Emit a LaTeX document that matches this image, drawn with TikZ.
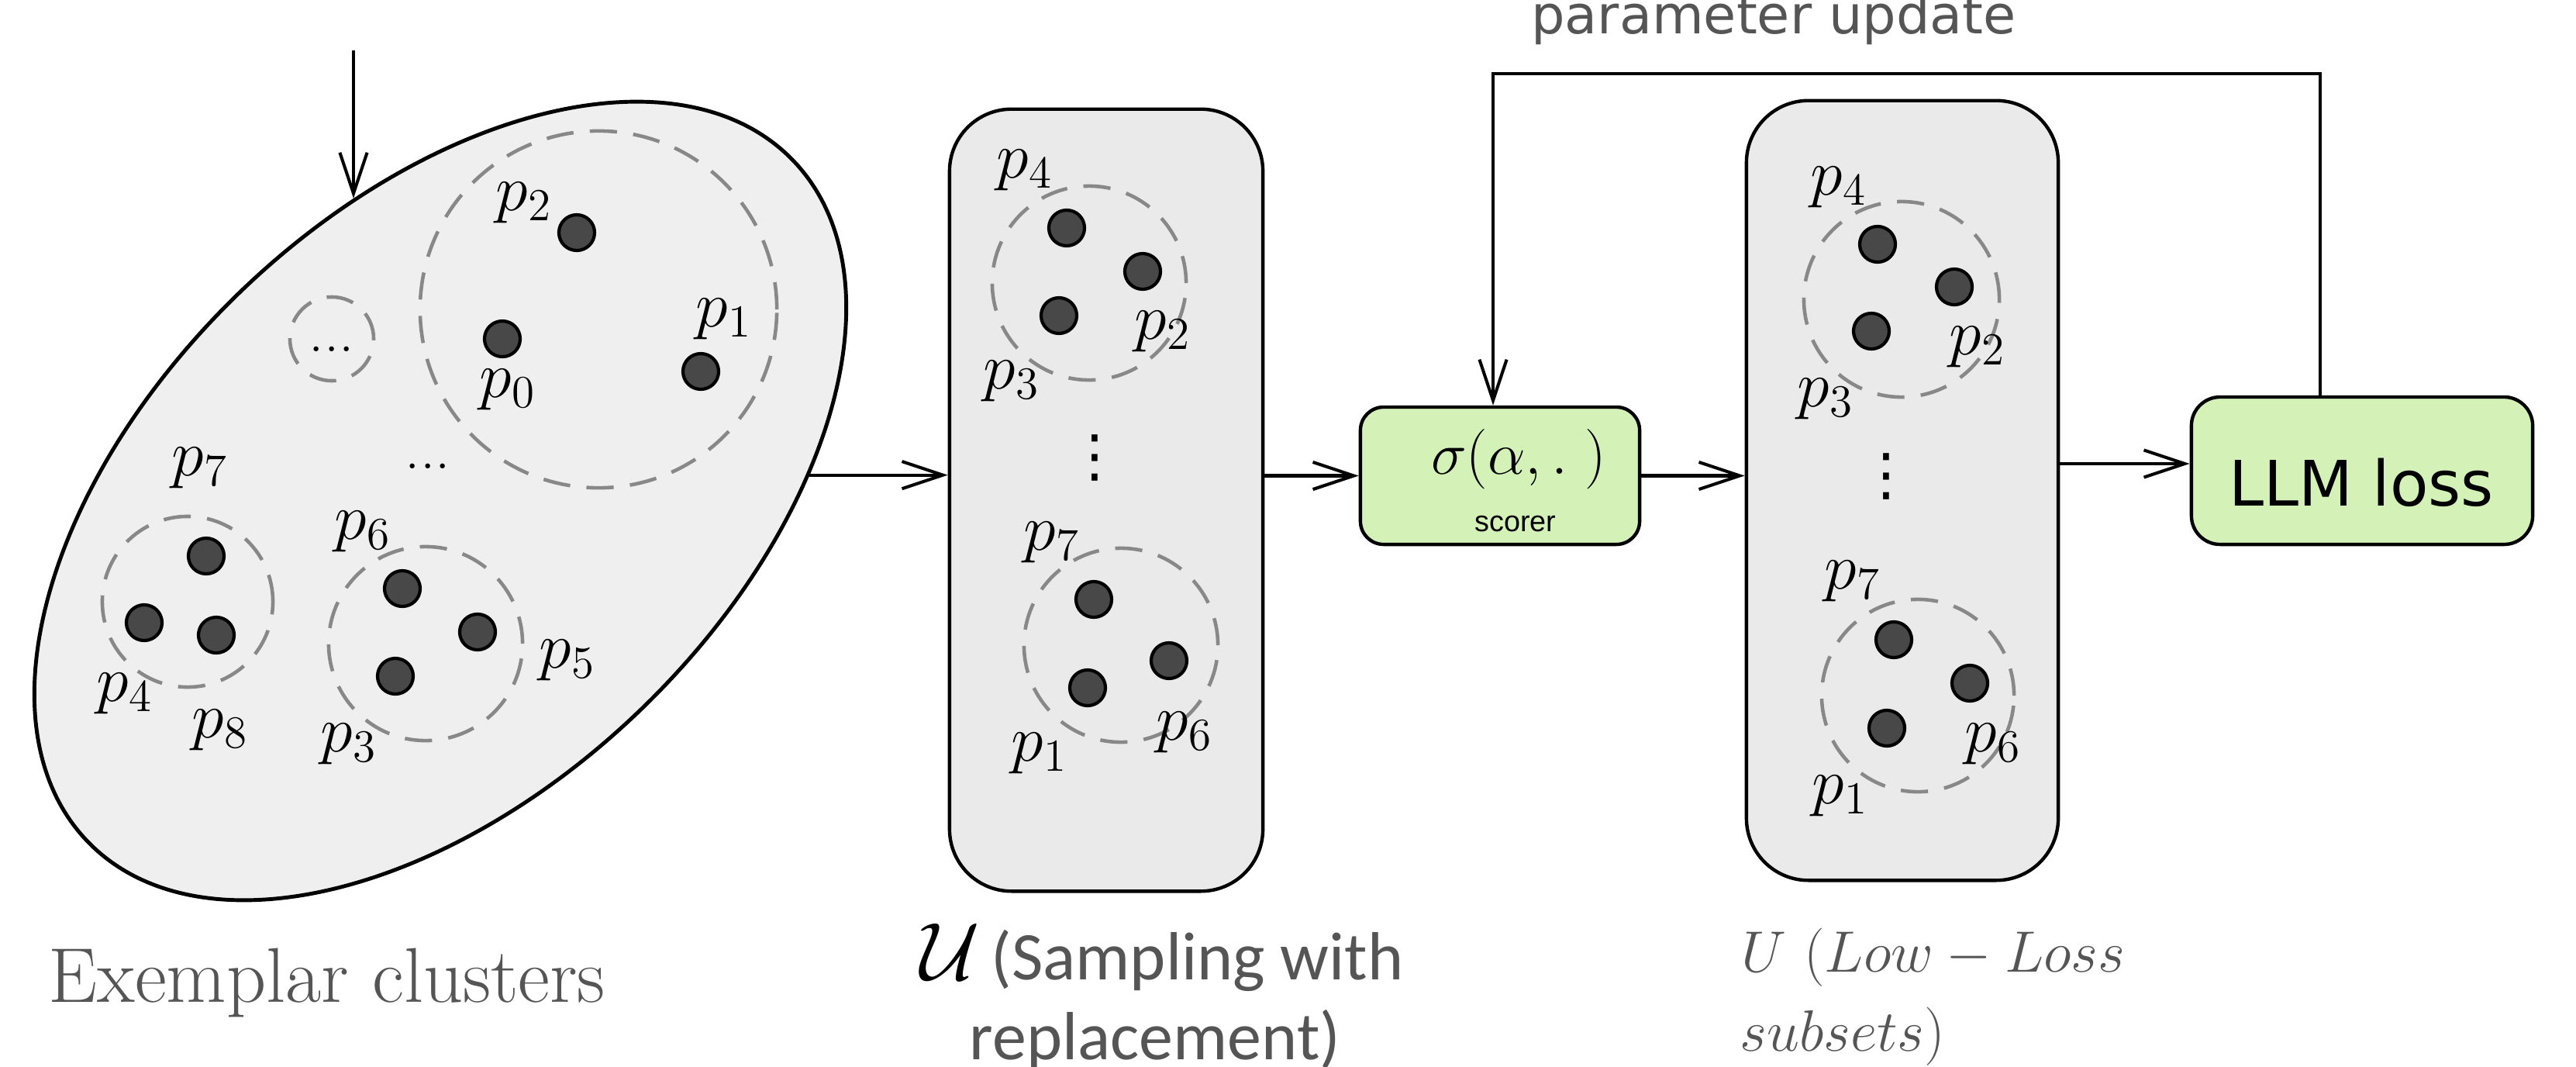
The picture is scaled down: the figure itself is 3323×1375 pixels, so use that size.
\RequirePackage{fix-cm}
\documentclass[tikz,border=0pt]{standalone}
\usepackage{fontspec}
\usetikzlibrary{arrows.meta,shapes.geometric}
\newfontfamily\carlito{Carlito}
\newfontfamily\dejavu{DejaVu Sans}
\newfontfamily\libsans{Liberation Sans}
\definecolor{ellfill}{HTML}{EFEFEF}
\definecolor{boxfill}{HTML}{EAEAEA}
\definecolor{greenfill}{HTML}{D4F2B7}
\definecolor{dotfill}{HTML}{484848}
\definecolor{dashgray}{HTML}{888888}
\definecolor{capgray}{HTML}{555555}
\begin{document}
\begin{tikzpicture}[x=0.01cm,y=-0.01cm,
  arr/.style={line width=1.15pt, -{Straight Barb[length=15pt,width=10pt]}},
  dot/.style={circle, draw=black, line width=1.2pt, fill=dotfill, minimum size=0.46cm, inner sep=0pt},
  clus/.style={circle, draw=dashgray, line width=1.3pt, dash pattern=on 10pt off 6pt, inner sep=0pt},
  lab/.style={inner sep=0pt, font=\fontsize{24}{28}\selectfont},
  setbox/.style={draw, line width=1.25pt, fill=boxfill, rounded corners=0.8cm, minimum width=4.04cm, minimum height=10.08cm, inner sep=0pt},
  greenbox/.style={draw, line width=1.25pt, fill=greenfill, inner sep=0pt},
  dotsstyle/.style={inner sep=0pt, font=\fontsize{22}{24}\selectfont},
  vdotsstyle/.style={inner sep=0pt, font=\dejavu\fontsize{21}{24}\selectfont}
]
\useasboundingbox (0,0) rectangle (3323,1375);

% ---------- exemplar clusters ----------
\node[draw, ellipse, line width=1.4pt, fill=ellfill, minimum width=12.64cm, minimum height=7.46cm, rotate=44, inner sep=0pt] (clusters) at (568,646) {};

\node[clus, minimum size=4.6cm] (cA) at (772,399) {};
\node[clus, minimum size=1.08cm] (cB) at (428,437) {};
\node[clus, minimum size=2.2cm] (cC) at (242,776) {};
\node[clus, minimum size=2.5cm] (cD) at (549,830) {};

\node[dotsstyle, anchor=base] (edots1) at (428,453) {...};
\node[dotsstyle, anchor=base] (edots2) at (552,604) {...};

\node[dot] (e2) at (744,300) {};
\node[dot] (e0) at (648,437) {};
\node[dot] (e1) at (904,479) {};
\node[dot] (e7) at (266,717) {};
\node[dot] (e4) at (186,803) {};
\node[dot] (e8) at (279,819) {};
\node[dot] (e6) at (519,759) {};
\node[dot] (e5) at (616,815) {};
\node[dot] (e3) at (510,872) {};

\node[lab] (le2) at (676,262) {$p_2$};
\node[lab] (le0) at (655,503) {$p_0$};
\node[lab] (le1) at (934,412) {$p_1$};
\node[lab] (le7) at (258,604) {$p_7$};
\node[lab] (le6) at (468,686) {$p_6$};
\node[lab] (le5) at (732,852) {$p_5$};
\node[lab] (le4) at (161,895) {$p_4$};
\node[lab] (le8) at (284,942) {$p_8$};
\node[lab] (le3) at (450,960) {$p_3$};

\node[inner sep=0pt, anchor=base west, text=capgray, font=\fontsize{28.5}{32}\selectfont] (cap0) at (62,1292) {Exemplar clusters};

% ---------- sampled set U ----------
\node[setbox] (U1) at (1427,645) {};
\node[clus, minimum size=2.5cm] (u1a) at (1405,365) {};
\node[clus, minimum size=2.5cm] (u1b) at (1446,832) {};
\node[dot] (u1d4) at (1376,294) {};
\node[dot] (u1d2) at (1474,350) {};
\node[dot] (u1d3) at (1366,407) {};
\node[dot] (u1d7) at (1411,773) {};
\node[dot] (u1d6) at (1508,852) {};
\node[dot] (u1d1) at (1403,887) {};
\node[lab] (u1l4) at (1322,220) {$p_4$};
\node[lab] (u1l2) at (1500,428) {$p_2$};
\node[lab] (u1l3) at (1305,492) {$p_3$};
\node[lab] (u1l7) at (1357,700) {$p_7$};
\node[lab] (u1l1) at (1341,972) {$p_1$};
\node[lab] (u1l6) at (1528,945) {$p_6$};
\node[vdotsstyle] (u1v) at (1412,591) {⋮};

\node[inner sep=0pt, anchor=base, text=capgray, font=\carlito\fontsize{25}{30}\selectfont] (cap1a) at (1499,1263) {{\color{black}\fontsize{30}{30}\selectfont$\mathcal{U}$}\,(Sampling with};
\node[inner sep=0pt, anchor=base, text=capgray, font=\carlito\fontsize{25}{30}\selectfont] (cap1b) at (1490,1366) {replacement)};

% ---------- scorer ----------
\node[greenbox, rounded corners=0.3cm, minimum width=3.6cm, minimum height=1.77cm] (scorer) at (1935,613.5) {};
\node[inner sep=0pt, anchor=base, font=\fontsize{22}{26}\selectfont] (sigma) at (1959,611) {$\sigma(\alpha,.\;)$};
\node[inner sep=0pt, anchor=base, font=\libsans\fontsize{10.75}{12}\selectfont] (scorerlab) at (1955,685) {scorer};

% ---------- low-loss subsets U ----------
\node[setbox, minimum width=4.02cm, minimum height=10.05cm] (U2) at (2454,632.5) {};
\node[clus, minimum size=2.52cm] (u2a) at (2453,386) {};
\node[clus, minimum size=2.48cm] (u2b) at (2474,897) {};
\node[dot] (u2d4) at (2422,315) {};
\node[dot] (u2d2) at (2521,370) {};
\node[dot] (u2d3) at (2414,427) {};
\node[dot] (u2d7) at (2443,825) {};
\node[dot] (u2d6) at (2541,881) {};
\node[dot] (u2d1) at (2434,939) {};
\node[lab] (u2l4) at (2372,242) {$p_4$};
\node[lab] (u2l2) at (2551,448) {$p_2$};
\node[lab] (u2l3) at (2355,515) {$p_3$};
\node[lab] (u2l7) at (2390,750) {$p_7$};
\node[lab] (u2l6) at (2571,960) {$p_6$};
\node[lab] (u2l1) at (2374,1027) {$p_1$};
\node[vdotsstyle] (u2v) at (2433,615) {⋮};

\node[inner sep=0pt, anchor=base west, text=capgray, font=\fontsize{21.4}{26}\selectfont] (cap2a) at (2246,1253) {$U$ ($Low-Loss$};
\node[inner sep=0pt, anchor=base west, text=capgray, font=\fontsize{21.4}{26}\selectfont] (cap2b) at (2244,1355) {$subsets$)};

% ---------- LLM loss ----------
\node[greenbox, rounded corners=0.37cm, minimum width=4.4cm, minimum height=1.9cm] (LLM) at (3047,607) {};
\node[inner sep=0pt, anchor=base, font=\dejavu\fontsize{23}{28}\selectfont] (llmlab) at (3046,652) {LLM loss};

\node[inner sep=0pt, anchor=base, text=capgray, font=\dejavu\fontsize{19.5}{24}\selectfont] (paramlab) at (2288,43) {parameter update};

% ---------- connectors ----------
\coordinate (inTop) at (456,65);
\draw[arr] (inTop) -- (inTop |- clusters.62);
\draw[arr] (clusters.-40) -- (clusters.-40 -| U1.west);
\draw[arr] (U1.east |- scorer.west) -- (scorer.west);
\draw[arr] (scorer.east) -- (scorer.east -| U2.west);
\coordinate (LLMin) at ([yshift=0.09cm]LLM.west);
\draw[arr] (U2.east |- LLMin) -- (LLMin);
\coordinate (fbcorner) at (1926,95);
\draw[arr] ([xshift=-0.54cm]LLM.north) |- (fbcorner) -- (fbcorner |- scorer.north);
\end{tikzpicture}
\end{document}
